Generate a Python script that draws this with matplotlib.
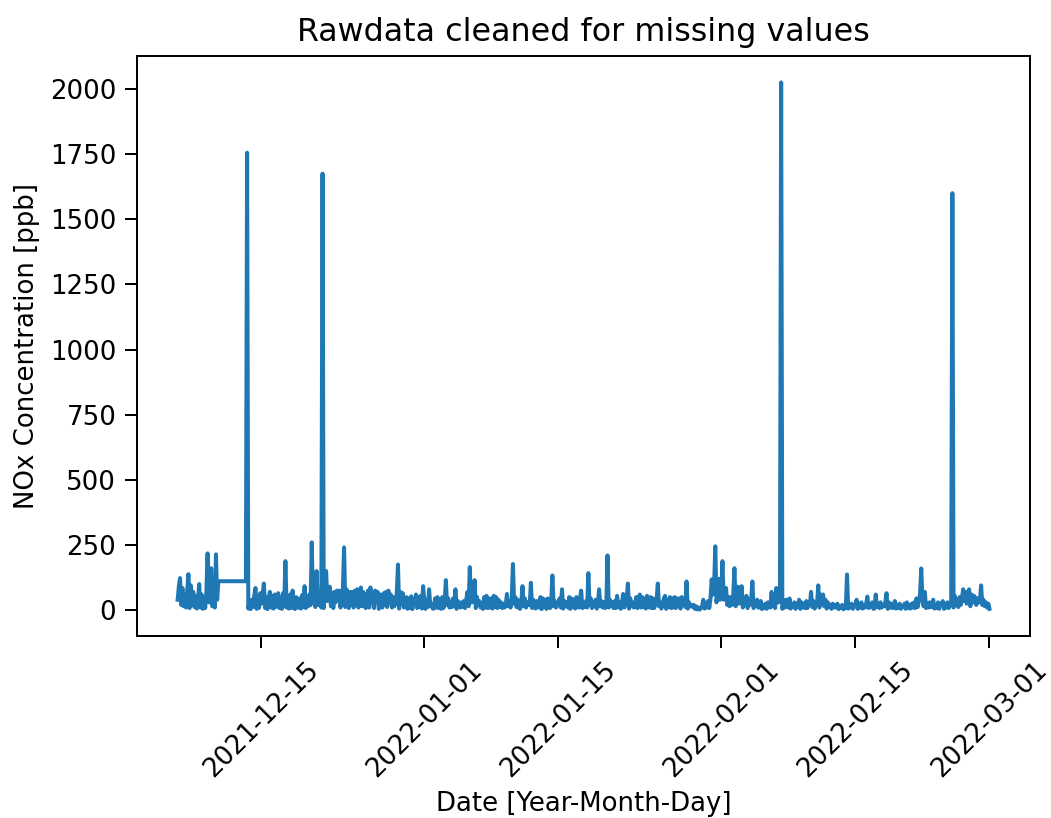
##########################
# NOx sensor - raw data check
##########################

#%% imports
from matplotlib import pyplot as plt
import matplotlib.dates as mdates
import numpy as np
import pandas as pd

#%% DATA
# 3-hourly readings, first one at 2021-12-06 06:00
start = "2021-12-06 06:00"

# one row per day (00h, 03h, ..., 21h), NOx in ppb
day_00 = [40, 90, 123, 20, 85, 15]
day_01 = [60, 10, 75, 138, 8, 95, 30, 70]
day_02 = [12, 55, 6, 40, 100, 10, 60, 5]
day_03 = [45, 8, 70, 218, 30, 50, 161, 15]
day_04 = [60, 10, 214, 40, 111, 111, 111, 111]
day_05 = [111, 111, 111, 111, 111, 111, 111, 111]
day_06 = [111, 111, 111, 111, 111, 111, 111, 111]
day_07 = [111, 111, 111, 111, 1755, 6, 30, 4]
day_08 = [40, 12, 55, 85, 5, 48, 9, 65]
day_09 = [25, 60, 102, 8, 50, 4, 45, 70]
day_10 = [10, 55, 6, 60, 12, 40, 65, 8]
day_11 = [50, 5, 65, 15, 188, 10, 55, 6]
day_12 = [60, 8, 75, 20, 4, 50, 38, 9]
day_13 = [45, 6, 58, 12, 92, 8, 50, 15]
day_14 = [60, 20, 260, 30, 75, 12, 150, 40]
day_15 = [20, 60, 10, 1675, 8, 90, 150, 35]
day_16 = [50, 90, 15, 65, 8, 70, 30, 75]
day_17 = [40, 75, 10, 60, 80, 241, 12, 80]
day_18 = [65, 8, 70, 20, 70, 10, 75, 25]
day_19 = [80, 10, 65, 87, 15, 70, 55, 8]
day_20 = [45, 75, 10, 87, 30, 60, 8, 75]
day_21 = [35, 70, 5, 60, 45, 10, 65, 20]
day_22 = [70, 12, 75, 30, 60, 10, 50, 15]
day_23 = [30, 65, 175, 6, 70, 25, 65, 10]
day_24 = [20, 50, 5, 45, 8, 53, 4, 40]
day_25 = [30, 60, 8, 50, 12, 55, 6, 92]
day_26 = [35, 5, 40, 12, 80, 15, 25, 6]
day_27 = [6, 45, 10, 50, 8, 40, 5, 50]
day_28 = [8, 30, 115, 20, 45, 10, 30, 12]
day_29 = [45, 15, 80, 5, 35, 25, 10, 30]
day_30 = [12, 35, 8, 40, 70, 15, 165, 30]
day_31 = [30, 50, 115, 8, 50, 20, 35, 10]
day_32 = [25, 5, 50, 10, 55, 8, 45, 10]
day_33 = [45, 6, 55, 12, 50, 8, 40, 12]
day_34 = [30, 8, 25, 10, 20, 62, 15, 35]
day_35 = [10, 40, 177, 25, 50, 12, 40, 8]
day_36 = [5, 30, 92, 15, 45, 10, 30, 20]
day_37 = [20, 105, 8, 40, 25, 6, 35, 15]
day_38 = [10, 50, 4, 45, 12, 40, 5, 45]
day_39 = [30, 8, 40, 133, 15, 35, 10, 20]
day_40 = [25, 45, 10, 80, 6, 35, 15, 30]
day_41 = [10, 50, 5, 45, 12, 40, 6, 50]
day_42 = [30, 10, 45, 75, 8, 25, 12, 35]
day_43 = [10, 142, 20, 45, 8, 30, 15, 40]
day_44 = [6, 30, 80, 15, 35, 10, 30, 8]
day_45 = [25, 210, 10, 40, 15, 30, 8, 35]
day_46 = [8, 55, 12, 30, 5, 25, 62, 10]
day_47 = [20, 45, 102, 6, 45, 15, 30, 10]
day_48 = [15, 50, 8, 45, 60, 10, 50, 12]
day_49 = [45, 6, 55, 40, 10, 50, 8, 45]
day_50 = [8, 25, 40, 102, 15, 30, 6, 20]
day_51 = [45, 55, 5, 40, 12, 50, 8, 45]
day_52 = [10, 50, 8, 45, 15, 45, 6, 50]
day_53 = [25, 40, 12, 110, 6, 30, 15, 20]
day_54 = [12, 20, 5, 15, 3, 10, 2, 8]
day_55 = [15, 40, 6, 25, 10, 35, 8, 45]
day_56 = [118, 60, 90, 245, 30, 60, 120, 40]
day_57 = [80, 188, 40, 60, 85, 20, 50, 15]
day_58 = [50, 20, 60, 161, 15, 40, 90, 25]
day_59 = [30, 92, 10, 45, 20, 55, 8, 40]
day_60 = [20, 45, 110, 8, 30, 15, 40, 10]
day_61 = [10, 35, 4, 20, 8, 25, 5, 30]
day_62 = [25, 10, 70, 15, 40, 8, 85, 30]
day_63 = [30, 60, 2025, 5, 25, 10, 40, 15]
day_64 = [10, 45, 6, 20, 12, 30, 5, 25]
day_65 = [15, 40, 5, 30, 10, 25, 8, 35]
day_66 = [8, 30, 20, 70, 12, 35, 6, 25]
day_67 = [25, 95, 10, 60, 30, 60, 15, 40]
day_68 = [6, 30, 12, 20, 5, 25, 10, 18]
day_69 = [10, 25, 4, 15, 8, 20, 3, 15]
day_70 = [8, 137, 6, 20, 10, 25, 5, 18]
day_71 = [15, 40, 5, 25, 10, 30, 6, 20]
day_72 = [10, 25, 52, 8, 20, 12, 30, 5]
day_73 = [6, 60, 12, 25, 8, 30, 10, 20]
day_74 = [15, 30, 65, 5, 30, 10, 25, 8]
day_75 = [10, 35, 6, 20, 8, 25, 5, 15]
day_76 = [15, 25, 5, 30, 8, 20, 6, 25]
day_77 = [10, 30, 8, 45, 12, 35, 60, 160]
day_78 = [40, 15, 70, 8, 25, 10, 30, 12]
day_79 = [12, 40, 6, 20, 8, 30, 5, 25]
day_80 = [20, 35, 5, 25, 10, 30, 8, 20]
day_81 = [30, 1600, 10, 55, 20, 40, 12, 50]
day_82 = [20, 45, 80, 35, 70, 25, 60, 80]
day_83 = [15, 60, 30, 55, 50, 20, 45, 30]
day_84 = [40, 95, 20, 40, 15, 30, 10, 25]
day_85 = [5]

days = [day_00, day_01, day_02, day_03, day_04, day_05, day_06, day_07, day_08, day_09,
        day_10, day_11, day_12, day_13, day_14, day_15, day_16, day_17, day_18, day_19,
        day_20, day_21, day_22, day_23, day_24, day_25, day_26, day_27, day_28, day_29,
        day_30, day_31, day_32, day_33, day_34, day_35, day_36, day_37, day_38, day_39,
        day_40, day_41, day_42, day_43, day_44, day_45, day_46, day_47, day_48, day_49,
        day_50, day_51, day_52, day_53, day_54, day_55, day_56, day_57, day_58, day_59,
        day_60, day_61, day_62, day_63, day_64, day_65, day_66, day_67, day_68, day_69,
        day_70, day_71, day_72, day_73, day_74, day_75, day_76, day_77, day_78, day_79,
        day_80, day_81, day_82, day_83, day_84, day_85]

nox = np.concatenate(days)
dates = pd.date_range(start=start, periods=len(nox), freq="3h")
df = pd.DataFrame({"date": dates, "NOx": nox})

#%% plot the cleaned series
fig = plt.figure(figsize=(1051 / 180, 818 / 180), dpi=180)
ax = fig.add_axes([0.1304, 0.2225, 0.8497, 0.709])

ax.plot(df["date"], df["NOx"], color="tab:blue", linewidth=1.6)

ax.xaxis.set_major_locator(mdates.DayLocator(bymonthday=[1, 15]))
ax.xaxis.set_major_formatter(mdates.DateFormatter("%Y-%m-%d"))
ax.tick_params(labelsize=10.4, length=4.8, pad=3.5)
plt.xticks(rotation=45)

ax.set_title("Rawdata cleaned for missing values", fontsize=12.7)
ax.set_xlabel("Date [Year-Month-Day]", fontsize=10.4, labelpad=3.5)
ax.set_ylabel("NOx Concentration [ppb]", fontsize=10.4)

fig.savefig("out.png", dpi=180)
